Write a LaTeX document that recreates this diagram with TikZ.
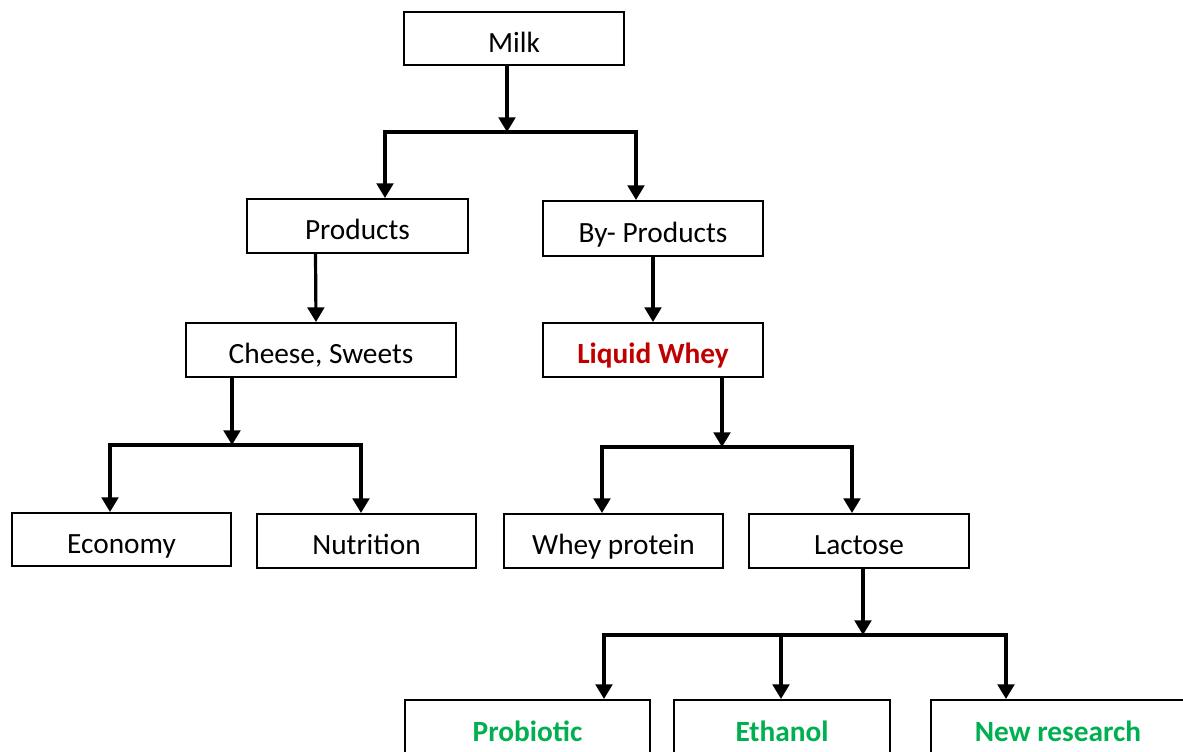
\documentclass[tikz,border=0pt]{standalone}
\usepackage{fontspec}
\setmainfont{Carlito}
\usetikzlibrary{arrows.meta}
\definecolor{wheyred}{HTML}{C00000}
\definecolor{resgreen}{HTML}{00B050}
\begin{document}
\begin{tikzpicture}[x=0.75pt,y=-0.75pt,
  box/.style={draw, line width=1.5pt, inner sep=0pt, text height=21pt, text depth=0pt,
    font=\fontsize{22}{26}\selectfont},
  redtxt/.style={text=wheyred, font=\fontsize{22}{26}\selectfont\bfseries},
  greentxt/.style={text=resgreen, font=\fontsize{22}{26}\selectfont\bfseries},
  arr/.style={line width=2.4pt, -{Triangle[width=12.5pt,length=11pt]}},
  bar/.style={line width=2.4pt, line cap=rect}]
\useasboundingbox (0,0) rectangle (1183,752);
\clip (0,0) rectangle (1183,752);
\fill[white] (0,0) rectangle (1183,752);
% boxes
\node[box, minimum width=165pt, minimum height=39.75pt] (milk) at (514,38.5) {Milk};
\node[box, minimum width=165.75pt, minimum height=40.5pt] (prod) at (357.5,226) {Products};
\node[box, minimum width=165pt, minimum height=41.25pt] (byprod) at (653,228.5) {By- Products};
\node[box, minimum width=202.5pt, minimum height=40.5pt] (cheese) at (321,350) {Cheese, Sweets};
\node[box, minimum width=165pt, minimum height=40.5pt, redtxt] (whey) at (653,350) {Liquid Whey};
\node[box, minimum width=164.25pt, minimum height=39.75pt] (econ) at (121.5,539.5) {Economy};
\node[box, minimum width=164.25pt, minimum height=40.5pt] (nutr) at (366.5,541) {Nutrition};
\node[box, minimum width=164.25pt, minimum height=40.5pt] (wprot) at (613.5,541) {Whey protein};
\node[box, minimum width=165pt, minimum height=40.5pt] (lact) at (859,541) {Lactose};
\node[box, minimum width=183.75pt, minimum height=40.5pt, greentxt] (probio) at (527.5,727) {Probiotic};
\node[box, minimum width=162pt, minimum height=40.5pt, greentxt] (ethanol) at (782,727) {Ethanol};
\node[box, minimum width=190.5pt, minimum height=40.5pt, greentxt] (newres) at (1058,727) {New research};
% junction coordinates
\coordinate (j1) at (507,132);
\coordinate (j1l) at (385,132);
\coordinate (j1r) at (636,132);
\coordinate (j2) at (232,445);
\coordinate (j2l) at (110,445);
\coordinate (j2r) at (361,445);
\coordinate (j3) at (722,447);
\coordinate (j3l) at (602,447);
\coordinate (j3r) at (852,447);
\coordinate (j4) at (863,635);
\coordinate (j4l) at (604,635);
\coordinate (j4m) at (781,635);
\coordinate (j4r) at (1006,635);
% Milk
\draw[arr] (milk.south -| j1) -- (j1);
\draw[bar] (j1l) -- (j1r);
\draw[arr] (j1l) -- (prod.north -| j1l);
\draw[arr] (j1r) -- (byprod.north -| j1r);
% Products / By-products
\draw[arr] ([xshift=-31.5pt]prod.south) -- ([xshift=-3.75pt]cheese.north);
\draw[arr] (byprod.south) -- (whey.north);
% Cheese
\draw[arr] (cheese.south -| j2) -- (j2);
\draw[bar] (j2l) -- (j2r);
\draw[arr] (j2l) -- (econ.north -| j2l);
\draw[arr] (j2r) -- (nutr.north -| j2r);
% Liquid whey
\draw[arr] (whey.south -| j3) -- (j3);
\draw[bar] (j3l) -- (j3r);
\draw[arr] (j3l) -- (wprot.north -| j3l);
\draw[arr] (j3r) -- (lact.north -| j3r);
% Lactose
\draw[arr] (lact.south -| j4) -- (j4);
\draw[bar] (j4l) -- (j4r);
\draw[arr] (j4l) -- (probio.north -| j4l);
\draw[arr] (j4m) -- (ethanol.north -| j4m);
\draw[arr] (j4r) -- (newres.north -| j4r);
\end{tikzpicture}
\end{document}
